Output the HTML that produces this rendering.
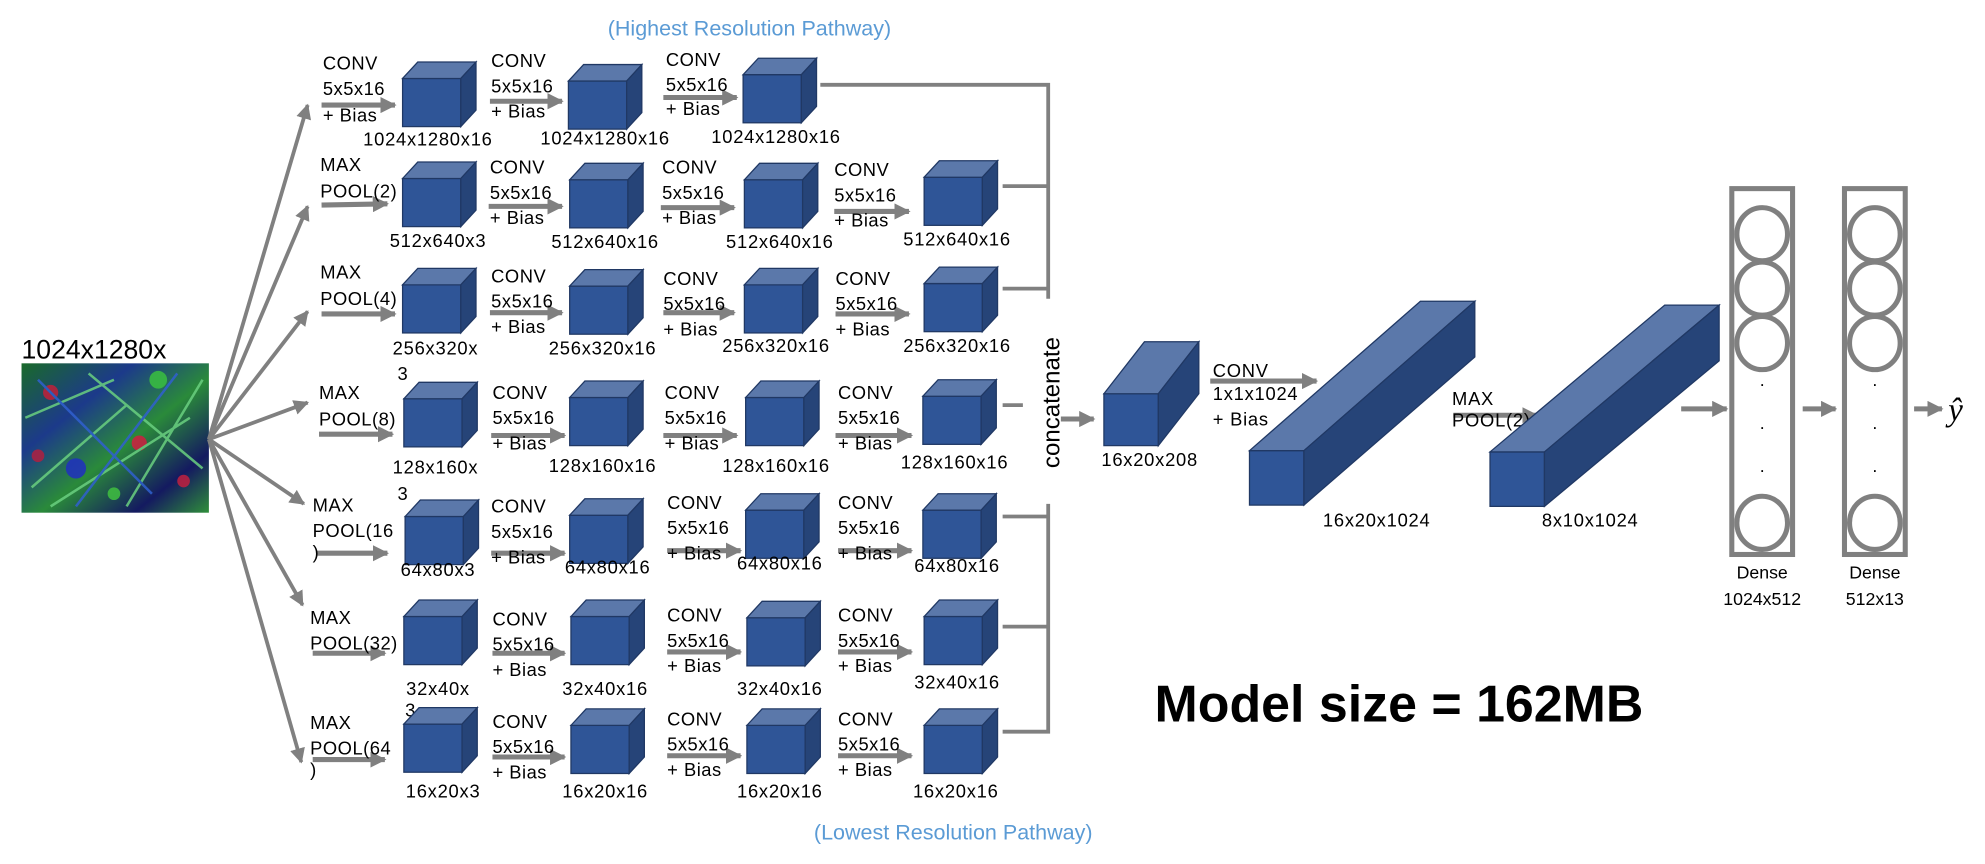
<!DOCTYPE html>
<html><head><meta charset="utf-8"><style>
html,body{margin:0;padding:0;background:#fff;}
svg{display:block;}
text{font-family:"Liberation Sans",Arial,sans-serif;fill:#000;}
.t{font-size:14.5px;letter-spacing:0.4px;}
.s{font-size:14.5px;letter-spacing:0.6px;}
</style></head><body>
<svg width="1985" height="864" viewBox="0 0 1568 682.5" xmlns="http://www.w3.org/2000/svg">
<defs>
<g id="cube">
<rect x="0" y="0" width="46" height="38" fill="#2f5597" stroke="#203864" stroke-width="1"/>
<polygon points="0,0 12,-13 58,-13 46,0" fill="#5b78aa" stroke="#203864" stroke-width="1"/>
<polygon points="46,0 58,-13 58,25 46,38" fill="#264478" stroke="#203864" stroke-width="1"/>
</g>
<marker id="ah" viewBox="0 0 10 10" refX="9" refY="5" markerWidth="3.2" markerHeight="3.2" orient="auto"><path d="M0,0 L10,5 L0,10 z" fill="#808080"/></marker>
<marker id="ah2" viewBox="0 0 10 10" refX="9" refY="5" markerWidth="4" markerHeight="4" orient="auto"><path d="M0,0 L10,5 L0,10 z" fill="#808080"/></marker>
<linearGradient id="g1" x1="0" y1="0" x2="1" y2="1"><stop offset="0" stop-color="#1a6a2a"/><stop offset="0.3" stop-color="#1c3a8a"/><stop offset="0.55" stop-color="#2a8a3a"/><stop offset="0.8" stop-color="#141a60"/><stop offset="1" stop-color="#2f8f3a"/></linearGradient>
</defs>

<text x="592" y="28" text-anchor="middle" style="font-size:17px;fill:#5b9bd5">(Highest Resolution Pathway)</text>
<text x="753" y="663" text-anchor="middle" style="font-size:17px;fill:#5b9bd5">(Lowest Resolution Pathway)</text>

<text x="17" y="283" style="font-size:21px">1024x1280x</text>
<rect x="17" y="287" width="148" height="118" fill="url(#g1)"/>
<g opacity="0.85">
<circle cx="40" cy="310" r="6" fill="#c0203a"/><circle cx="125" cy="300" r="7" fill="#3ac040"/><circle cx="110" cy="350" r="6" fill="#d02040"/><circle cx="60" cy="370" r="8" fill="#2030c0"/><circle cx="145" cy="380" r="5" fill="#c02040"/><circle cx="90" cy="390" r="5" fill="#40c040"/><circle cx="30" cy="360" r="5" fill="#b02040"/>
<path d="M20,330 L90,300 M40,400 L150,330 M70,295 L160,370 M25,385 L100,320 M100,400 L160,300" stroke="#6ad080" stroke-width="2" fill="none"/>
<path d="M30,300 L120,390 M140,295 L60,400" stroke="#3060d0" stroke-width="2" fill="none"/>
</g>

<g stroke="#808080" stroke-width="3" fill="none" marker-end="url(#ah2)">
<line x1="165" y1="347" x2="243" y2="83"/>
<line x1="165" y1="347" x2="243" y2="163"/>
<line x1="165" y1="347" x2="243" y2="246"/>
<line x1="165" y1="347" x2="243" y2="318"/>
<line x1="165" y1="347" x2="240" y2="398"/>
<line x1="165" y1="347" x2="239" y2="478"/>
<line x1="165" y1="347" x2="238" y2="602"/>
</g>

<g stroke="#808080" stroke-width="4" fill="none" marker-end="url(#ah)">
<line x1="254" y1="83" x2="312" y2="83"/>
<line x1="387" y1="80" x2="444" y2="80"/>
<line x1="524" y1="77" x2="582" y2="77"/>
<line x1="254" y1="162" x2="306" y2="161"/>
<line x1="386" y1="163" x2="444" y2="163"/>
<line x1="522" y1="164" x2="580" y2="164"/>
<line x1="659" y1="167" x2="718" y2="167"/>
<line x1="254" y1="248" x2="312" y2="248"/>
<line x1="387" y1="247" x2="444" y2="247"/>
<line x1="524" y1="247" x2="580" y2="247"/>
<line x1="660" y1="248" x2="718" y2="248"/>
<line x1="252" y1="343" x2="310" y2="343"/>
<line x1="388" y1="344" x2="446" y2="344"/>
<line x1="524" y1="344" x2="582" y2="344"/>
<line x1="660" y1="344" x2="720" y2="344"/>
<line x1="250" y1="437" x2="306" y2="437"/>
<line x1="388" y1="437" x2="446" y2="437"/>
<line x1="527" y1="435" x2="585" y2="435"/>
<line x1="662" y1="435" x2="720" y2="435"/>
<line x1="247" y1="516" x2="304" y2="516"/>
<line x1="389" y1="516" x2="446" y2="516"/>
<line x1="527" y1="515" x2="585" y2="515"/>
<line x1="662" y1="515" x2="720" y2="515"/>
<line x1="247" y1="600" x2="304" y2="600"/>
<line x1="389" y1="598" x2="446" y2="598"/>
<line x1="527" y1="597" x2="585" y2="597"/>
<line x1="662" y1="597" x2="720" y2="597"/>
</g>

<text x="320" y="566" class="t">3</text>

<use href="#cube" x="318" y="62"/><use href="#cube" x="449" y="64"/><use href="#cube" x="587" y="59"/>
<use href="#cube" x="318" y="141"/><use href="#cube" x="450" y="142"/><use href="#cube" x="588" y="142"/><use href="#cube" x="730" y="140"/>
<use href="#cube" x="318" y="225"/><use href="#cube" x="450" y="226"/><use href="#cube" x="588" y="225"/><use href="#cube" x="730" y="224"/>
<use href="#cube" x="319" y="315"/><use href="#cube" x="450" y="314"/><use href="#cube" x="589" y="314"/><use href="#cube" x="729" y="313"/>
<use href="#cube" x="320" y="408"/><use href="#cube" x="450" y="407"/><use href="#cube" x="589" y="403"/><use href="#cube" x="729" y="403"/>
<use href="#cube" x="319" y="487"/><use href="#cube" x="451" y="487"/><use href="#cube" x="590" y="488"/><use href="#cube" x="730" y="487"/>
<use href="#cube" x="319" y="572"/><use href="#cube" x="451" y="573"/><use href="#cube" x="590" y="573"/><use href="#cube" x="730" y="573"/>

<g class="t">
<text x="255" y="55">CONV</text><text x="255" y="75">5x5x16</text><text x="255" y="96">+ Bias</text>
<text x="388" y="53">CONV</text><text x="388" y="73">5x5x16</text><text x="388" y="93">+ Bias</text>
<text x="526" y="52">CONV</text><text x="526" y="72">5x5x16</text><text x="526" y="91">+ Bias</text>

<text x="253" y="135">MAX</text><text x="253" y="156">POOL(2)</text>
<text x="387" y="137">CONV</text><text x="387" y="157">5x5x16</text><text x="387" y="177">+ Bias</text>
<text x="523" y="137">CONV</text><text x="523" y="157">5x5x16</text><text x="523" y="177">+ Bias</text>
<text x="659" y="139">CONV</text><text x="659" y="159">5x5x16</text><text x="659" y="179">+ Bias</text>

<text x="253" y="220">MAX</text><text x="253" y="241">POOL(4)</text>
<text x="388" y="223">CONV</text><text x="388" y="243">5x5x16</text><text x="388" y="263">+ Bias</text>
<text x="524" y="225">CONV</text><text x="524" y="245">5x5x16</text><text x="524" y="265">+ Bias</text>
<text x="660" y="225">CONV</text><text x="660" y="245">5x5x16</text><text x="660" y="265">+ Bias</text>

<text x="252" y="315">MAX</text><text x="252" y="336">POOL(8)</text>
<text x="389" y="315">CONV</text><text x="389" y="335">5x5x16</text><text x="389" y="355">+ Bias</text>
<text x="525" y="315">CONV</text><text x="525" y="335">5x5x16</text><text x="525" y="355">+ Bias</text>
<text x="662" y="315">CONV</text><text x="662" y="335">5x5x16</text><text x="662" y="355">+ Bias</text>

<text x="247" y="404">MAX</text><text x="247" y="424">POOL(16</text><text x="247" y="441">)</text>
<text x="388" y="405">CONV</text><text x="388" y="425">5x5x16</text><text x="388" y="445">+ Bias</text>
<text x="527" y="402">CONV</text><text x="527" y="422">5x5x16</text><text x="527" y="442">+ Bias</text>
<text x="662" y="402">CONV</text><text x="662" y="422">5x5x16</text><text x="662" y="442">+ Bias</text>

<text x="245" y="493">MAX</text><text x="245" y="513">POOL(32)</text>
<text x="389" y="494">CONV</text><text x="389" y="514">5x5x16</text><text x="389" y="534">+ Bias</text>
<text x="527" y="491">CONV</text><text x="527" y="511">5x5x16</text><text x="527" y="531">+ Bias</text>
<text x="662" y="491">CONV</text><text x="662" y="511">5x5x16</text><text x="662" y="531">+ Bias</text>

<text x="245" y="576">MAX</text><text x="245" y="596">POOL(64</text><text x="245" y="613">)</text>
<text x="389" y="575">CONV</text><text x="389" y="595">5x5x16</text><text x="389" y="615">+ Bias</text>
<text x="527" y="573">CONV</text><text x="527" y="593">5x5x16</text><text x="527" y="613">+ Bias</text>
<text x="662" y="573">CONV</text><text x="662" y="593">5x5x16</text><text x="662" y="613">+ Bias</text>
</g>
<g class="s" text-anchor="middle">
<text x="338" y="115">1024x1280x16</text><text x="478" y="114">1024x1280x16</text><text x="613" y="113">1024x1280x16</text>
<text x="346" y="195">512x640x3</text><text x="478" y="196">512x640x16</text><text x="616" y="196">512x640x16</text><text x="756" y="194">512x640x16</text>
<text x="344" y="280">256x320x</text><text x="476" y="280">256x320x16</text><text x="613" y="278">256x320x16</text><text x="756" y="278">256x320x16</text>
<text x="344" y="374">128x160x</text><text x="476" y="373">128x160x16</text><text x="613" y="373">128x160x16</text><text x="754" y="370">128x160x16</text>
<text x="346" y="455">64x80x3</text><text x="480" y="453">64x80x16</text><text x="616" y="450">64x80x16</text><text x="756" y="452">64x80x16</text>
<text x="346" y="549">32x40x</text><text x="478" y="549">32x40x16</text><text x="616" y="549">32x40x16</text><text x="756" y="544">32x40x16</text>
<text x="350" y="630">16x20x3</text><text x="478" y="630">16x20x16</text><text x="616" y="630">16x20x16</text><text x="755" y="630">16x20x16</text>
</g>
<text x="314" y="300" class="t">3</text><text x="314" y="395" class="t">3</text>

<g stroke="#808080" stroke-width="3" fill="none">
<polyline points="648,67 828,67 828,236"/>
<line x1="792" y1="147" x2="828" y2="147"/>
<line x1="792" y1="228" x2="828" y2="228"/>
<line x1="792" y1="320" x2="808" y2="320"/>
<polyline points="828,398 828,578 792,578"/>
<line x1="792" y1="408" x2="828" y2="408"/>
<line x1="792" y1="495" x2="828" y2="495"/>
</g>
<text transform="translate(837,318) rotate(-90)" text-anchor="middle" style="font-size:19px">concatenate</text>

<g stroke="#808080" stroke-width="4" fill="none" marker-end="url(#ah)">
<line x1="838" y1="331" x2="864" y2="331"/>
<line x1="956" y1="301" x2="1040" y2="301"/>
<line x1="1148" y1="328" x2="1214" y2="328"/>
<line x1="1328" y1="323" x2="1364" y2="323"/>
<line x1="1424" y1="323" x2="1450" y2="323"/>
<line x1="1512" y1="323" x2="1534" y2="323"/>
</g>

<g stroke="#203864" stroke-width="1">
<rect x="872" y="311" width="43" height="41" fill="#2f5597"/>
<polygon points="872,311 904,270 947,270 915,311" fill="#5b78aa"/>
<polygon points="915,311 947,270 947,311 915,352" fill="#264478"/>
</g>
<text x="870" y="368" class="s">16x20x208</text>
<text x="958" y="298" class="s">CONV</text><text x="958" y="316" class="s">1x1x1024</text><text x="958" y="336" class="s">+ Bias</text>

<g stroke="#203864" stroke-width="1">
<rect x="987" y="356" width="43" height="43" fill="#2f5597"/>
<polygon points="987,356 1122,238 1165,238 1030,356" fill="#5b78aa"/>
<polygon points="1030,356 1165,238 1165,282 1030,399" fill="#264478"/>
</g>
<text x="1045" y="416" class="s">16x20x1024</text>
<text x="1147" y="320" class="s">MAX</text><text x="1147" y="337" class="s">POOL(2)</text>
<g stroke="#203864" stroke-width="1">
<rect x="1177" y="357" width="43" height="43" fill="#2f5597"/>
<polygon points="1177,357 1315,241 1358,241 1220,357" fill="#5b78aa"/>
<polygon points="1220,357 1358,241 1358,285 1220,400" fill="#264478"/>
</g>
<text x="1218" y="416" class="s">8x10x1024</text>

<g stroke="#808080" stroke-width="4" fill="none">
<rect x="1368" y="149" width="48" height="289"/>
<rect x="1457" y="149" width="48" height="289"/>
<ellipse cx="1392" cy="185" rx="20" ry="21"/><ellipse cx="1392" cy="228" rx="20" ry="21"/><ellipse cx="1392" cy="271" rx="20" ry="21"/><ellipse cx="1392" cy="413" rx="20" ry="21"/>
<ellipse cx="1481" cy="185" rx="20" ry="21"/><ellipse cx="1481" cy="228" rx="20" ry="21"/><ellipse cx="1481" cy="271" rx="20" ry="21"/><ellipse cx="1481" cy="413" rx="20" ry="21"/>
</g>
<g style="font-size:14px" text-anchor="middle">
<text x="1392" y="305">.</text><text x="1392" y="339">.</text><text x="1392" y="373">.</text>
<text x="1481" y="305">.</text><text x="1481" y="339">.</text><text x="1481" y="373">.</text>
<text x="1392" y="457">Dense</text><text x="1392" y="478">1024x512</text>
<text x="1481" y="457">Dense</text><text x="1481" y="478">512x13</text>
</g>
<text x="1539" y="332" style="font-family:'Liberation Serif',serif;font-style:italic;font-size:26px">ŷ</text>

<text x="912" y="570" style="font-size:41px;font-weight:bold">Model size = 162MB</text>
</svg>
</body></html>
